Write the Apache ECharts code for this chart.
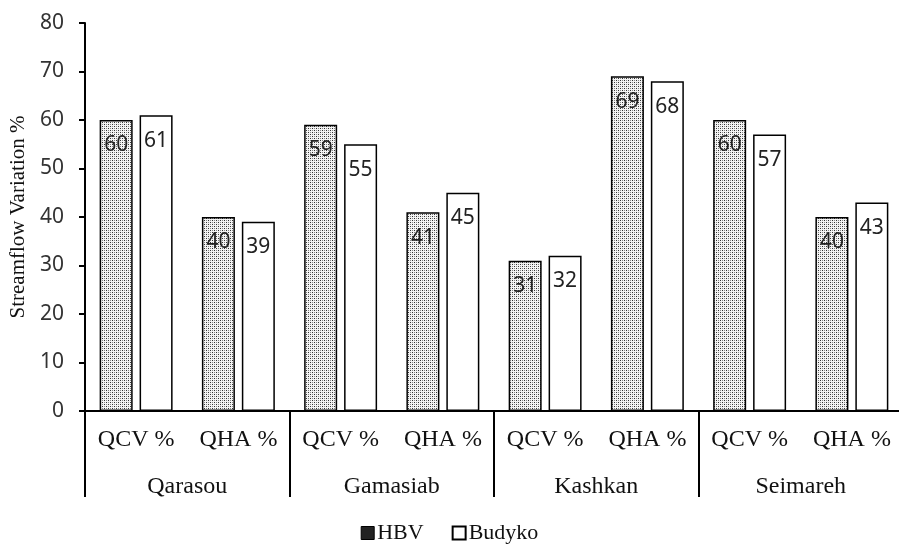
<!DOCTYPE html>
<html>
<head>
<meta charset="utf-8">
<script src="https://cdn.jsdelivr.net/npm/echarts@6/dist/echarts.min.js"></script>
<style>
html,body{margin:0;padding:0;background:#fff;}
#chart{width:899px;height:544px;}
</style>
</head>
<body>
<div id="chart"></div>
<script>
const subCategories = ['QCV %','QHA %','QCV %','QHA %','QCV %','QHA %','QCV %','QHA %'];
const groups = ['Qarasou','Gamasiab','Kashkan','Seimareh'];
const hbvValues = [60, 40, 59, 41, 31, 69, 60, 40];
const budykoValues = [61, 39, 55, 45, 32, 68, 57, 43];
const yTicks = [0, 10, 20, 30, 40, 50, 60, 70, 80];

// dotted pattern for HBV bars
const pc = document.createElement('canvas');
pc.width = 4; pc.height = 4;
const px = pc.getContext('2d');
px.fillStyle = '#f4f4f4';
px.fillRect(0,0,4,4);
px.fillStyle = '#333';
px.fillRect(0,0,1,1);
px.fillRect(2,2,1,1);
px.fillStyle = '#888';
px.fillRect(2,0,1,1);
px.fillRect(0,2,1,1);

const chart = echarts.init(document.getElementById('chart'), null, {renderer:'canvas'});
const serif = '"Liberation Serif", "Times New Roman", serif';
const sans = '"Noto Sans", "Open Sans", sans-serif';

chart.setOption({
  animation: false,
  backgroundColor: '#fff',
  grid: {left: 85, top: 23, width: 818, height: 388, containLabel: false, outerBoundsMode: 'none'},
  legend: {
    top: 517,
    left: 'center',
    itemWidth: 13,
    itemHeight: 13,
    itemGap: 28,
    textStyle: {fontFamily: serif, fontSize: 22, color: '#111', padding: [0,0,0,-2]},
    data: [
      {name: 'HBV', icon: 'rect', itemStyle: {color: '#222', borderColor: '#000', borderWidth: 1}},
      {name: 'Budyko', icon: 'rect', itemStyle: {color: '#fff', borderColor: '#000', borderWidth: 2}}
    ]
  },
  xAxis: [
    {
      type: 'category',
      data: subCategories,
      position: 'bottom',
      axisLine: {show: true, lineStyle: {color: '#000', width: 2}},
      axisTick: {show: false},
      axisLabel: {fontFamily: serif, fontSize: 24, color: '#111', margin: 17, interval: 0}
    },
    {
      type: 'category',
      data: groups,
      position: 'bottom',
      axisLine: {show: false},
      axisTick: {show: true, length: 86, lineStyle: {color: '#000', width: 2}},
      axisLabel: {fontFamily: serif, fontSize: 24, color: '#111', margin: 64, interval: 0}
    }
  ],
  yAxis: {
    type: 'value',
    min: yTicks[0],
    max: yTicks[yTicks.length - 1],
    interval: 10,
    name: 'Streamflow Variation %',
    nameLocation: 'middle',
    nameGap: 54,
    nameTextStyle: {fontFamily: serif, fontSize: 21, color: '#111'},
    axisLine: {show: true, lineStyle: {color: '#000', width: 2}},
    axisTick: {show: true, length: 6, lineStyle: {color: '#000', width: 2}},
    axisLabel: {fontFamily: sans, fontSize: 21, color: '#333', margin: 21},
    splitLine: {show: false}
  },
  series: [
    {
      name: 'HBV',
      type: 'bar',
      xAxisIndex: 0,
      data: hbvValues,
      barWidth: 33,
      barGap: '21%',
      itemStyle: {color: {image: pc, repeat: 'repeat'}, borderColor: '#000', borderWidth: 1.5},
      label: {show: true, position: 'insideTop', distance: 15, fontFamily: sans, fontSize: 21, color: '#222'}
    },
    {
      name: 'Budyko',
      type: 'bar',
      xAxisIndex: 0,
      data: budykoValues,
      barWidth: 33,
      itemStyle: {color: '#fff', borderColor: '#000', borderWidth: 1.5},
      label: {show: true, position: 'insideTop', distance: 15, fontFamily: sans, fontSize: 21, color: '#222'}
    }
  ]
});
</script>
</body>
</html>
